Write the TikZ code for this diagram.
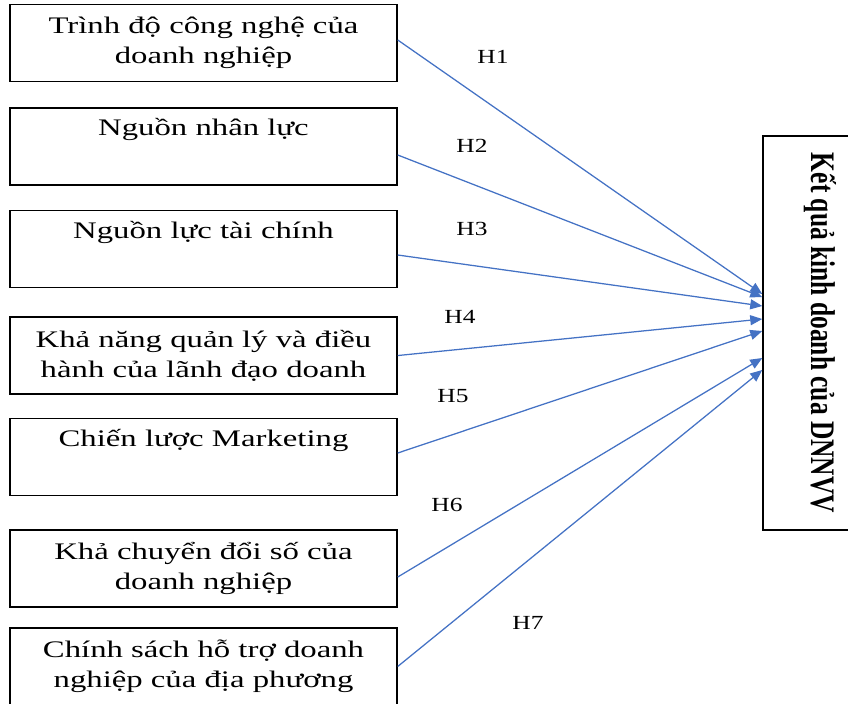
\documentclass[tikz,border=0pt]{standalone}
\usepackage{fontspec}
\setmainfont{Liberation Serif}
\newfontfamily\boxfont[FakeStretch=1.38]{Liberation Serif}
\newfontfamily\hypfont[FakeStretch=1.27]{Liberation Serif}
\usetikzlibrary{arrows.meta}
\definecolor{arc}{RGB}{68,114,196}

\begin{document}
\begin{tikzpicture}[x=0.75pt, y=-0.75pt, factor/.style={rectangle, draw, line width=1.1pt, minimum width=290.25pt, minimum height=57.75pt, align=center, execute at begin node=\rule{0pt}{21pt}, font=\boxfont\fontsize{17.8}{22.5}\selectfont}, hyp/.style={font=\hypfont\fontsize{15}{18}\selectfont}, link/.style={color=arc, line width=0.95pt, -{Triangle[length=9pt, width=7.5pt]}}]

    \useasboundingbox (0,0) rectangle (848,703);

    \node[factor] (tech) at (203.5,43) {Trình độ công nghệ của\\doanh nghiệp};
    \node[factor, below of=tech, node distance=77.6pt] (hr) {Nguồn nhân lực\\\strut};
    \node[factor, below of=hr, node distance=76.9pt] (fin) {Nguồn lực tài chính\\\strut};
    \node[factor, below of=fin, node distance=79.9pt] (lead) {Khả năng quản lý và điều\\hành của lãnh đạo doanh};
    \node[factor, below of=lead, node distance=76.1pt] (mkt) {Chiến lược Marketing\\\strut};
    \node[factor, below of=mkt, node distance=83.6pt] (dig) {Khả chuyển đổi số của\\doanh nghiệp};
    \node[factor, below of=dig, node distance=73.5pt] (pol) {Chính sách hỗ trợ doanh\\nghiệp của địa phương};
    \node[draw, line width=1.1pt, rotate=-90, minimum width=295.5pt, minimum height=85.5pt, font=\bfseries\fontsize{19.1}{23}\selectfont] (kq) at (820,333) {\scalebox{1}[1.35]{Kết quả kinh doanh của DNNVV}};

    \node[hyp] (h1) at (493,57) {H1};
    \node[hyp] (h2) at (472,146) {H2};
    \node[hyp] (h3) at (472,229) {H3};
    \node[hyp] (h4) at (460,317) {H4};
    \node[hyp] (h5) at (453,396) {H5};
    \node[hyp] (h6) at (447,505) {H6};
    \node[hyp] (h7) at (528,623) {H7};

    \draw[link] ([yshift=2.25pt]tech.east) -- ([yshift=29.25pt]kq.south);
    \draw[link] ([yshift=-6.4pt]hr.east) -- ([yshift=27pt]kq.south);
    \draw[link] ([yshift=-4.5pt]fin.east) -- ([yshift=20.25pt]kq.south);
    \draw[link] (lead.east) -- ([yshift=10.5pt]kq.south);
    \draw[link] ([yshift=3pt]mkt.east) -- ([yshift=1.5pt]kq.south);
    \draw[link] ([yshift=-6.4pt]dig.east) -- ([yshift=-18.75pt]kq.south);
    \draw[link] (pol.east) -- ([yshift=-27.75pt]kq.south);

  \end{tikzpicture}
\end{document}
